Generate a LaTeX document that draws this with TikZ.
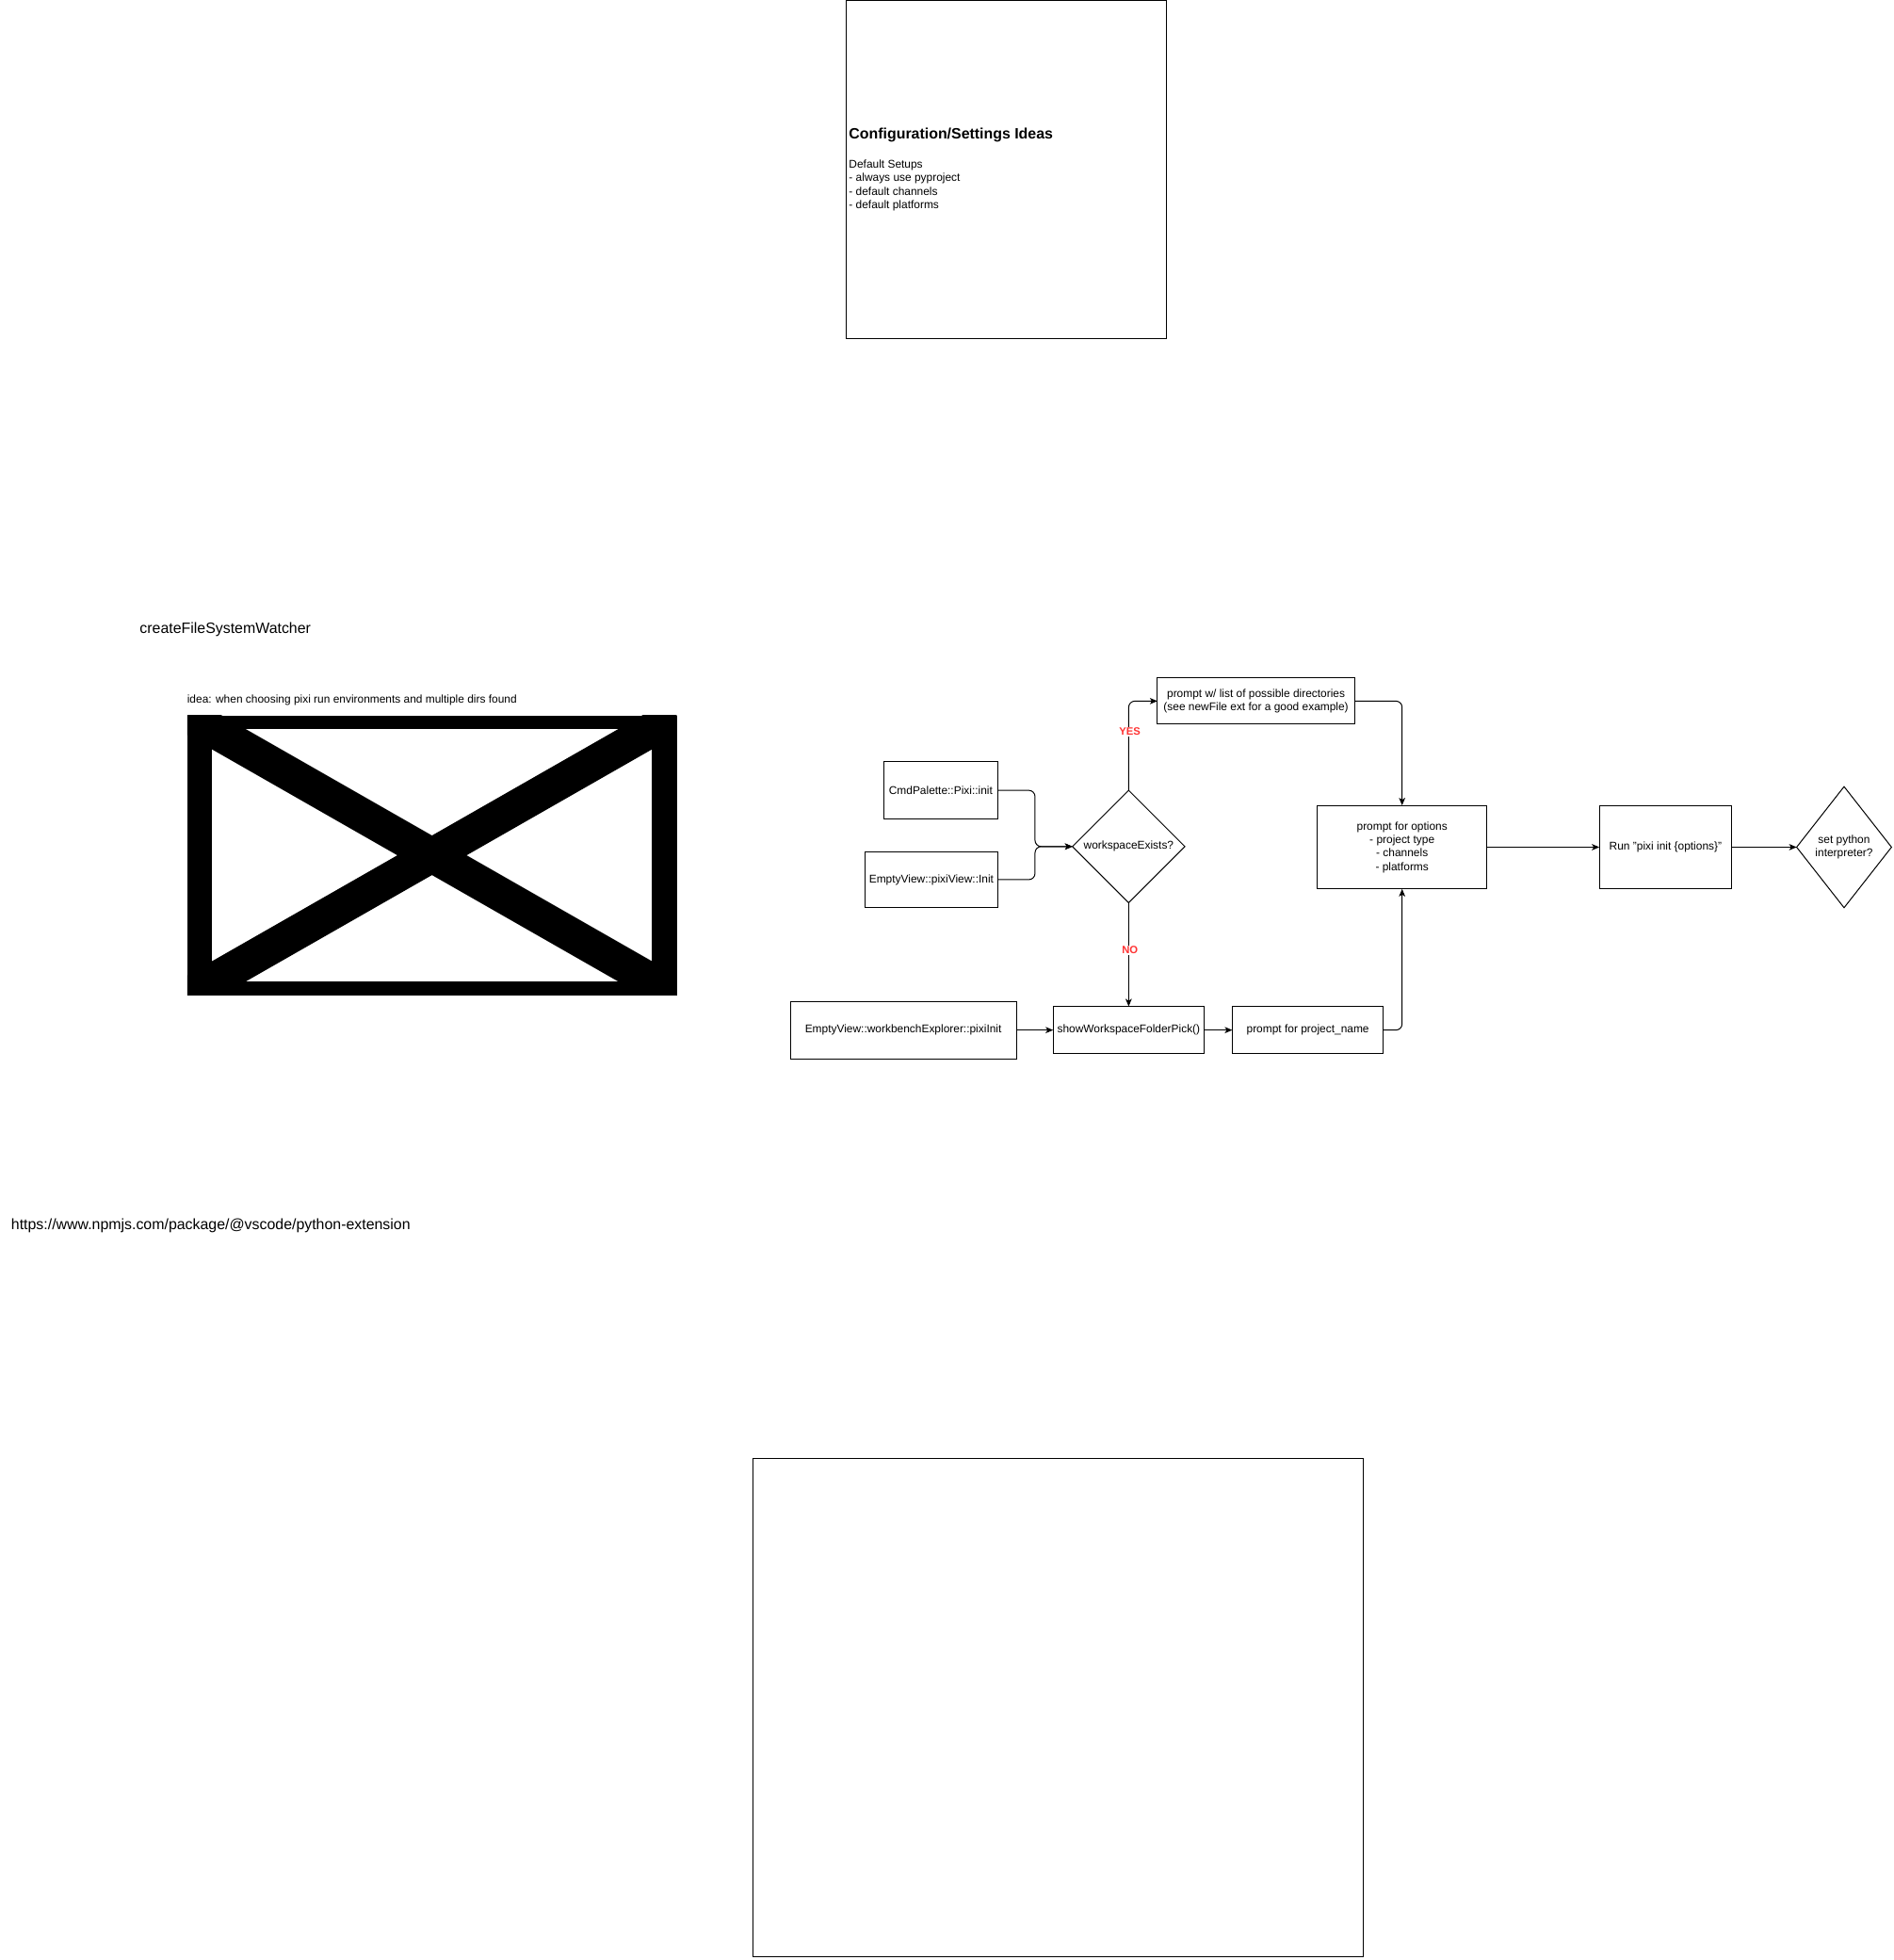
\documentclass[tikz,border=0pt]{standalone}
\usepackage{fontspec}
\setmainfont{Liberation Sans}
\usetikzlibrary{shapes.geometric,arrows.meta}
\definecolor{labred}{RGB}{255,51,51}
\begin{document}
\begin{tikzpicture}[x=1pt,y=-1pt,
  every node/.style={inner sep=0pt, outer sep=0pt},
  box/.style={draw=black, line width=0.75pt, fill=white, align=center, font=\fontsize{9}{10.8}\selectfont},
  dia/.style={draw=black, line width=0.75pt, diamond, fill=white, aspect=1},
  txt/.style={font=\fontsize{9}{10.8}\selectfont, align=center},
  big/.style={font=\fontsize{12}{14}\selectfont},
  small/.style={font=\fontsize{9}{10.7}\selectfont},
  conn/.style={draw=black, line width=0.75pt, -{Stealth[length=6pt,width=5pt,inset=1.5pt]}, rounded corners=5pt},
  lbl/.style={font=\bfseries\fontsize{8.5}{10}\selectfont, text=labred, fill=white, inner sep=1pt},
  frame/.style={draw=black, line width=0.75pt}
]
\useasboundingbox (0,0) rectangle (1517,1569.8);

% top configuration box
\draw[frame] (678,0.5) rectangle (934,271);
\node[anchor=west, font=\bfseries\fontsize{12}{14}\selectfont] (cfgtitle) at (680,108) {Configuration/Settings Ideas};
\node[anchor=west, small, align=left] (cfgbody) at (680,148.5) {Default Setups\\- always use pyproject\\- default channels\\- default platforms};

% left notes
\node[anchor=west, big] (cfsw) at (112,504) {createFileSystemWatcher};
\node[anchor=west, small] (idea) at (150,561) {idea: when choosing pixi run environments and multiple dirs found};
\node[anchor=west, big] (url) at (9,982) {https://www.npmjs.com/package/@vscode/python-extension};

% placeholder image
\fill[black] (150,573) rectangle (542,797);
\fill[white] (170,584) rectangle (522,786);
\begin{scope}
  \clip (150,573) rectangle (542,797);
  \draw[line width=27.5pt] (150,573) -- (542,797);
  \draw[line width=27.5pt] (150,797) -- (542,573);
\end{scope}

% flowchart
\node[box, minimum width=158pt, minimum height=37pt] (plist) at (1006,561.5) {prompt w/ list of possible directories\\(see newFile ext for a good example)};
\node[box, minimum width=91pt, minimum height=46pt] (cmd) at (753.5,633) {CmdPalette::Pixi::init};
\node[box, minimum width=106pt, minimum height=45pt] (epv) at (746,704.5) {EmptyView::pixiView::Init};
\node[dia, minimum width=90pt, minimum height=90pt] (ws) at (904,678) {};
\node[txt] (wstxt) at (ws.center) {workspaceExists?};
\node[box, minimum width=181pt, minimum height=46pt] (wbe) at (723.5,825) {EmptyView::workbenchExplorer::pixiInit};
\node[box, minimum width=121pt, minimum height=38pt] (swf) at (904,825) {showWorkspaceFolderPick()};
\node[box, minimum width=121pt, minimum height=38pt] (ppn) at (1047.5,825) {prompt for project\_name};
\node[box, minimum width=136pt, minimum height=67pt] (popt) at (1123,678.5) {prompt for options\\- project type\\- channels\\- platforms};
\node[box, minimum width=106pt, minimum height=67pt] (run) at (1334,678.5) {Run "pixi init \{options\}"};
\node[dia, minimum width=76pt, minimum height=97pt] (spi) at (1477,678.5) {};
\node[txt] (spitxt) at (spi.center) {set python\\interpreter?};

% connectors
\draw[conn] (cmd.east) -- ++(30,0) |- (ws.west);
\draw[conn] (epv.east) -- ++(30,0) |- (ws.west);
\draw[conn] (ws.north) |- (plist.west);
\node[lbl] (yes) at (905,586) {YES};
\draw[conn] (ws.south) -- (swf.north);
\node[lbl] (no) at (905,761) {NO};
\draw[conn] (wbe.east) -- (swf.west);
\draw[conn] (swf.east) -- (ppn.west);
\draw[conn] (ppn.east) -| (popt.south);
\draw[conn] (plist.east) -| (popt.north);
\draw[conn] (popt.east) -- (run.west);
\draw[conn] (run.east) -- (spi.west);

% bottom empty box
\draw[frame] (603,1168) rectangle (1092,1567);
\end{tikzpicture}
\end{document}
